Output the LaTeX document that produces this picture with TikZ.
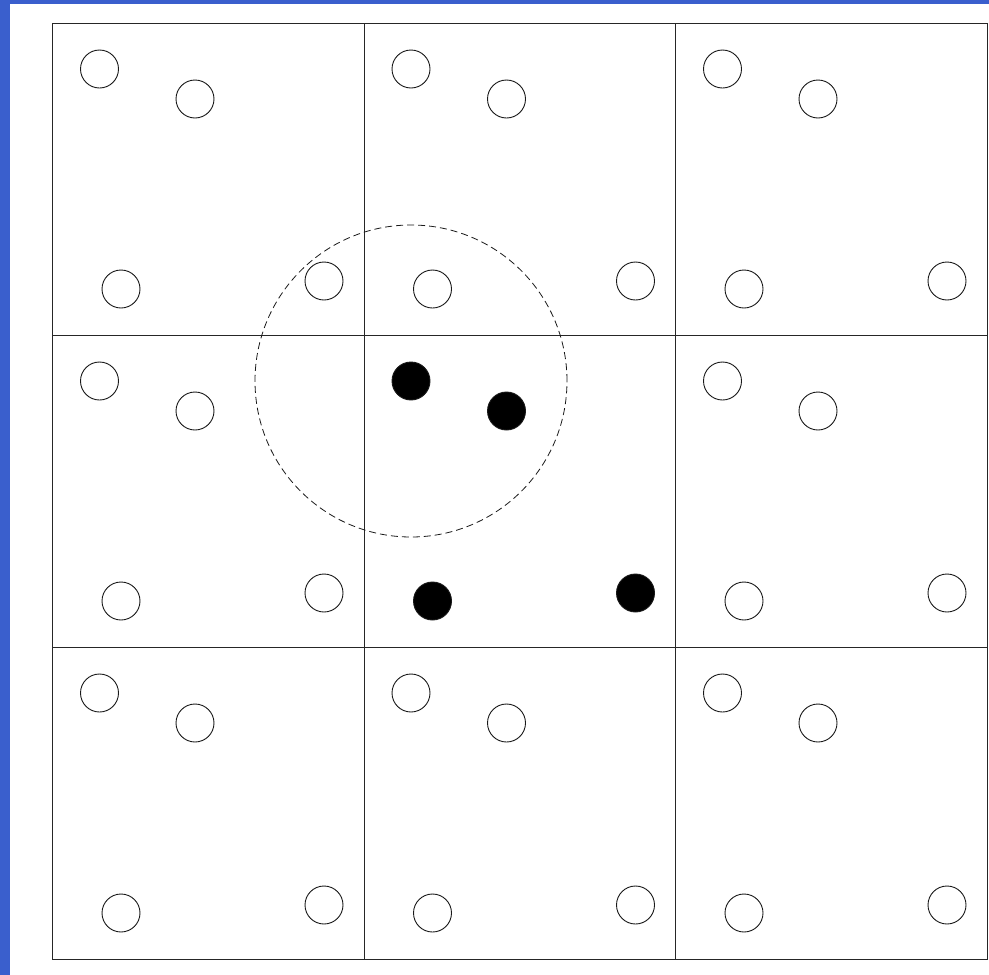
\documentclass[tikz,border=0pt]{standalone}
\definecolor{sidebar}{HTML}{3A5FCD}
\begin{document}
\begin{tikzpicture}[x=1pt,y=-1pt,
  cellbox/.style={draw=black!85, line width=1.2pt, minimum width=311.5pt, minimum height=312pt, inner sep=0pt, anchor=north west},
  pt/.style={circle, draw=black!90, line width=0.9pt, minimum size=38pt, inner sep=0pt},
  ptfill/.style={pt, fill=black},
  zonecircle/.style={circle, draw=black!90, dash pattern=on 7pt off 4pt, line width=0.8pt, minimum size=312pt, inner sep=0pt}]
\useasboundingbox (0,0) rectangle (989,975);
\fill[white] (0,0) rectangle (989,975);
\fill[sidebar] (0,0) rectangle (10,975);
\fill[sidebar] (0,0) rectangle (989,4);
\foreach \c in {0,1,2} {
  \foreach \r in {0,1,2} {
    \node[cellbox] (cell-\c-\r) at ({52+311.5*\c},{23+312*\r}) {};
  }
}
\foreach \c/\r in {0/0,1/0,2/0,0/1,2/1,0/2,1/2,2/2} {
  \node[pt] (p-\c-\r-a) at ({52+311.5*\c+47.5},{23+312*\r+46}) {};
  \node[pt] (p-\c-\r-b) at ({52+311.5*\c+143},{23+312*\r+76}) {};
  \node[pt] (p-\c-\r-c) at ({52+311.5*\c+69},{23+312*\r+266}) {};
  \node[pt] (p-\c-\r-d) at ({52+311.5*\c+272},{23+312*\r+258}) {};
}
\node[ptfill] (p-1-1-a) at ({52+311.5+47.5},{23+312+46}) {};
\node[ptfill] (p-1-1-b) at ({52+311.5+143},{23+312+76}) {};
\node[ptfill] (p-1-1-c) at ({52+311.5+69},{23+312+266}) {};
\node[ptfill] (p-1-1-d) at ({52+311.5+272},{23+312+258}) {};
\node[zonecircle] (zone) at (p-1-1-a) {};
\end{tikzpicture}
\end{document}
